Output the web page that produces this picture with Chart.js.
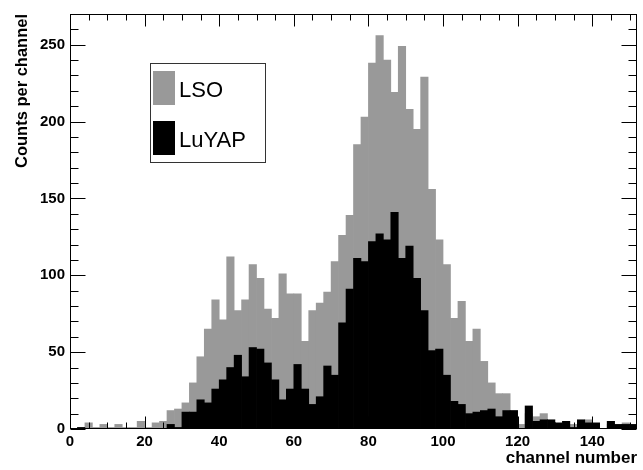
<!DOCTYPE html>
<html>
<head>
<meta charset="utf-8">
<script src="https://cdn.jsdelivr.net/npm/chart.js@4.4.1/dist/chart.umd.min.js"></script>
<style>
  html, body { margin: 0; padding: 0; background: #fff; }
</style>
</head>
<body>
<canvas id="myChart" width="643" height="470"></canvas>
<script>
// bin centres (2 channels per bin)
const channels = [
  1, 3, 5, 7, 9, 11, 13, 15, 17, 19, 21, 23, 25, 27, 29, 31, 33, 35, 37, 39,
  41, 43, 45, 47, 49, 51, 53, 55, 57, 59, 61, 63, 65, 67, 69, 71, 73, 75, 77, 79,
  81, 83, 85, 87, 89, 91, 93, 95, 97, 99, 101, 103, 105, 107, 109, 111, 113, 115, 117, 119,
  121, 123, 125, 127, 129, 131, 133, 135, 137, 139, 141, 143, 145, 147, 149, 151
];

const lso = [
  0, 1, 4, 1, 3, 1, 3, 1, 1, 5, 1, 4, 5, 12, 13, 17, 30, 47, 65, 84,
  71, 112, 77, 84, 107, 98, 78, 72, 101, 88, 88, 57, 77, 82, 89, 109, 126, 139, 185, 203,
  238, 256, 240, 219, 249, 208, 195, 229, 156, 123, 107, 72, 83, 57, 65, 44, 30, 23, 23, 12,
  3, 10, 8, 10, 4, 3, 3, 3, 4, 6, 3, 0, 3, 2, 4, 2
];

const luyap = [
  0, 1, 0, 0, 0, 0, 0, 0, 0, 0, 0, 0, 0, 3, 1, 11, 11, 19, 17, 26,
  32, 40, 48, 34, 53, 52, 43, 32, 19, 26, 42, 26, 16, 21, 41, 35, 69, 91, 111, 109,
  122, 127, 123, 141, 111, 119, 98, 77, 51, 52, 35, 18, 16, 10, 11, 12, 13, 8, 12, 12,
  0, 15, 5, 6, 6, 4, 5, 1, 6, 4, 4, 0, 5, 3, 3, 3
];

const xTicks = [0, 20, 40, 60, 80, 100, 120, 140];
const yTicks = [0, 50, 100, 150, 200, 250];

const FONT = 'Liberation Sans, Arial, Helvetica, sans-serif';

// ROOT style frame with inward ticks on all four sides
const frame = {
  id: 'frame',
  afterDatasetsDraw(chart) {
    const { ctx, chartArea: a, scales: { x, y } } = chart;
    ctx.save();
    ctx.strokeStyle = '#000';
    ctx.lineWidth = 1;
    const L = Math.round(a.left) + 0.5, R = Math.round(a.right) - 0.5;
    const T = Math.round(a.top) + 0.5, B = Math.round(a.bottom) - 0.5;
    ctx.strokeRect(L, T, R - L, B - T);
    ctx.beginPath();
    for (let v = 0; v <= x.max; v += 5) {
      const px = Math.round(x.getPixelForValue(v)) + 0.5;
      const len = xTicks.includes(v) ? 12 : 6;
      ctx.moveTo(px, B); ctx.lineTo(px, B - len);
      ctx.moveTo(px, T); ctx.lineTo(px, T + len);
    }
    for (let v = 0; v <= y.max; v += 10) {
      const py = Math.round(y.getPixelForValue(v)) + 0.5;
      const len = yTicks.includes(v) ? 15 : 8;
      ctx.moveTo(L, py); ctx.lineTo(L + len, py);
      ctx.moveTo(R, py); ctx.lineTo(R - len, py);
    }
    ctx.stroke();
    ctx.restore();
  }
};

// legend box placed inside the pad
const boxLegend = {
  id: 'boxLegend',
  afterDraw(chart) {
    const { ctx } = chart;
    const ds = chart.data.datasets;
    ctx.save();
    ctx.fillStyle = '#fff';
    ctx.fillRect(150, 63, 115, 99);
    ctx.strokeStyle = '#333';
    ctx.lineWidth = 1;
    ctx.strokeRect(150.5, 63.5, 115, 99);
    ctx.font = '22px ' + FONT;
    ctx.textBaseline = 'alphabetic';
    [ds[0], ds[1]].forEach((d, i) => {
      const top = 71 + i * 50;
      ctx.fillStyle = d.backgroundColor;
      ctx.fillRect(153, top, 22, 34);
      ctx.fillStyle = '#000';
      ctx.fillText(d.label, 179, top + 26);
    });
    ctx.restore();
  }
};

new Chart(
  document.getElementById('myChart'),
  {
    type: 'bar',
    plugins: [frame, boxLegend],
    data: {
      datasets: [
        {
          label: 'LSO',
          data: channels.map((c, i) => ({ x: c, y: lso[i] })),
          backgroundColor: '#999999',
          borderWidth: 0,
          order: 2
        },
        {
          label: 'LuYAP',
          data: channels.map((c, i) => ({ x: c, y: luyap[i] })),
          backgroundColor: '#000000',
          borderWidth: 0,
          order: 1
        }
      ]
    },
    options: {
      responsive: false,
      animation: false,
      devicePixelRatio: 1,
      layout: { padding: { top: 10, right: 6, left: 0, bottom: 0 } },
      datasets: {
        bar: { grouped: false, barPercentage: 1, categoryPercentage: 1 }
      },
      plugins: {
        legend: { display: false },
        tooltip: { enabled: false },
        title: { display: false }
      },
      scales: {
        x: {
          type: 'linear',
          offset: false,
          min: 0,
          max: 152,
          grid: { display: false, drawTicks: false, offset: false },
          border: { display: false },
          afterBuildTicks: s => { s.ticks = xTicks.map(v => ({ value: v })); },
          afterFit: s => { s.height = 41; },
          ticks: {
            padding: 4,
            maxRotation: 0,
            color: '#000',
            font: { family: FONT, size: 15, weight: 'bold' }
          },
          title: {
            display: true,
            text: 'channel number',
            align: 'end',
            color: '#000',
            padding: { top: 0, bottom: 1 },
            font: { family: FONT, size: 17, weight: 'bold' }
          }
        },
        y: {
          min: 0,
          max: 270,
          grid: { display: false, drawTicks: false },
          border: { display: false },
          afterBuildTicks: s => { s.ticks = yTicks.map(v => ({ value: v })); },
          afterFit: s => { s.width = 70; },
          ticks: {
            padding: 5,
            color: '#000',
            font: { family: FONT, size: 15, weight: 'bold' }
          },
          title: {
            display: true,
            text: 'Counts per channel',
            align: 'end',
            color: '#000',
            padding: { top: 13, bottom: 0 },
            font: { family: FONT, size: 16.5, weight: 'bold' }
          }
        }
      }
    }
  }
);
</script>
</body>
</html>
